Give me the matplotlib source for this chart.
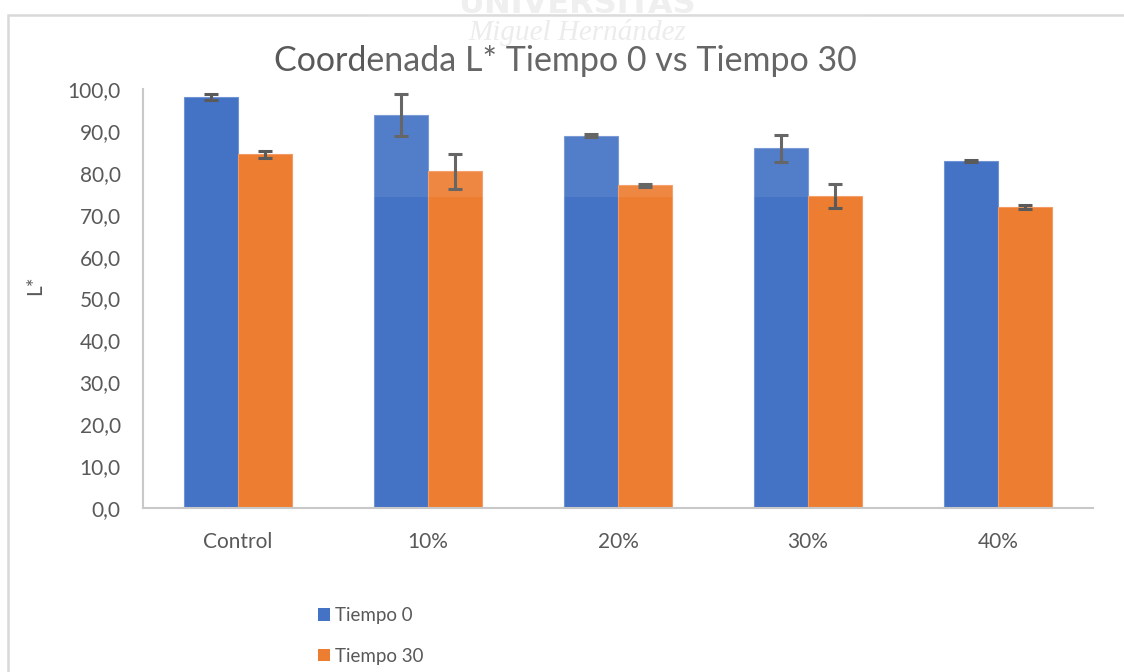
import matplotlib
matplotlib.use("Agg")
import matplotlib.pyplot as plt
from matplotlib.patches import Rectangle, Patch
import numpy as np

categories = ["Control", "10%", "20%", "30%", "40%"]
tiempo0 = [98.0, 93.7, 88.9, 85.8, 82.8]
tiempo0_err = [0.7, 5.0, 0.3, 3.3, 0.3]
tiempo30 = [84.4, 80.4, 77.0, 74.5, 71.8]
tiempo30_err = [0.9, 4.2, 0.3, 2.9, 0.5]
yticks = [0, 10, 20, 30, 40, 50, 60, 70, 80, 90, 100]

plt.rcParams['font.family'] = ['Lato', 'DejaVu Sans']
gray = '#595959'

fig = plt.figure(figsize=(11.24, 6.72), dpi=100)
ax = fig.add_axes([143/1124, 1-508/672, 950/1124, 419/672])

x = np.arange(len(categories))
w = 0.285
ekw = dict(ecolor='#5a5a5a', elinewidth=2.2, capsize=5, capthick=2.2)
ax.bar(x - w/2, tiempo0, w, color='#4472C4', edgecolor='#6f93d3', linewidth=0.8,
       yerr=tiempo0_err, error_kw=ekw, label='Tiempo 0')
ax.bar(x + w/2, tiempo30, w, color='#ED7D31', edgecolor='#f29a63', linewidth=0.8,
       yerr=tiempo30_err, error_kw=ekw, label='Tiempo 30')

ax.set_xlim(-0.5, len(categories) - 0.5)
ax.set_ylim(0, 100)
ax.set_yticks(yticks)
ax.set_yticklabels([f"{v:.1f}".replace('.', ',') for v in yticks])
ax.set_xticks(x)
ax.set_xticklabels(categories)
ax.tick_params(axis='both', length=0, colors=gray, labelsize=15)
ax.tick_params(axis='x', pad=17)
ax.tick_params(axis='y', pad=16)
for s in ['top', 'right']:
    ax.spines[s].set_visible(False)
ax.spines['left'].set_color('#c8c8c8')
ax.spines['left'].set_linewidth(1.5)
ax.spines['bottom'].set_color('#c8c8c8')
ax.spines['bottom'].set_linewidth(1.5)

fig.text(35/1124, 1-285/672, 'L*', rotation=90, ha='center', va='center',
         color=gray, fontsize=15)
fig.text(565/1124, 1-61/672, 'Coordenada L* Tiempo 0 vs Tiempo 30',
         ha='center', va='center', color=gray, fontsize=24.5)

# watermark
fig.text(577/1124, 1-13/672, 'UNIVERSITAS', ha='center', va='baseline',
         color='#efefef', fontsize=23, fontweight='bold', family='DejaVu Sans', zorder=0)
fig.text(577/1124, 1-40/672, 'Miguel Hernández', ha='center', va='baseline',
         color='#ebebeb', fontsize=21, style='italic', family='Liberation Serif', zorder=0)
fig.patches.append(Rectangle((370/1124, 1-197/672), 495/1124, 182/672,
                             transform=fig.transFigure, facecolor='white',
                             alpha=0.08, edgecolor='none', zorder=5))

# chart frame
fig.patches.append(Rectangle((8/1124, -0.05), 1.2, 1-15/672 + 0.05,
                             transform=fig.transFigure, facecolor='none',
                             edgecolor='#d9d9d9', linewidth=1.8, zorder=0))

labels = ['Tiempo 0', 'Tiempo 30']
h = [Patch(facecolor='#4472C4', edgecolor='none'), Patch(facecolor='#ED7D31', edgecolor='none')]
leg = fig.legend(h, labels, loc='center left', bbox_to_anchor=(301/1124, 1-636/672),
                 frameon=False, fontsize=13.5, labelcolor=gray, handlelength=0.65,
                 handleheight=0.65, handletextpad=0.25, labelspacing=1.25)

fig.savefig('out.png', dpi=100, facecolor='white')
